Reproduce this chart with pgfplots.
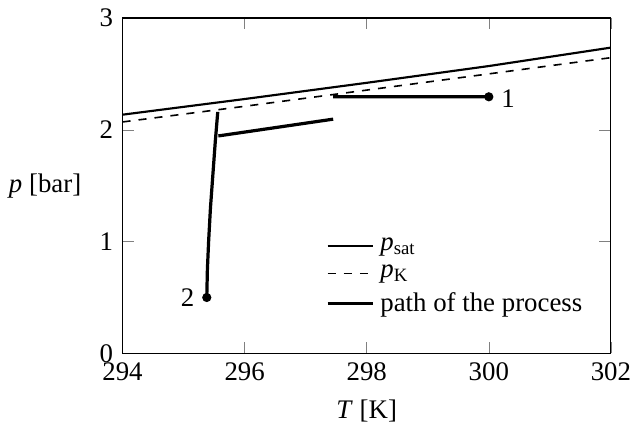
\documentclass[border=0pt]{standalone}
\usepackage{fontspec}
\setmainfont{Liberation Serif}
\usepackage{pgfplots}
\pgfplotsset{compat=1.18}

\begin{document}
\begin{tikzpicture}
  \begin{axis}[
    scale only axis,
    width=182pt, height=125pt,
    xmin=294, xmax=302, ymin=0, ymax=3,
    xtick={294,296,...,302}, ytick={0,1,2,3},
    /pgf/number format/assume math mode=true,
    /pgf/number format/1000 sep={},
    xlabel={\textit{T} [K]},
    ylabel={\textit{p} [bar]},
    ylabel style={rotate=-90},
    legend cell align=left,
    legend style={draw=none, fill=none, at={(0.97,0.08)}, anchor=south east},
    unbounded coords=jump,
    ]
    \addplot[black, thick] coordinates {
      (294, 2.135) (296, 2.275) (298, 2.42) (300, 2.57) (302, 2.735)
    };
    \addlegendentry{\textit{p}\textsubscript{sat}}
    \addplot[black, semithick, dashed] coordinates {
      (294, 2.07) (296, 2.21) (298, 2.355) (300, 2.50) (302, 2.645)
    };
    \addlegendentry{\textit{p}\textsubscript{K}}
    \addplot[black, very thick] coordinates {
      (300, 2.295) (297.45, 2.295) (297.45, nan)
      (297.45, 2.095) (295.57, 1.945) (295.57, nan)
      (295.56, 2.16) (295.52, 1.9) (295.48, 1.6) (295.44, 1.3)
      (295.41, 1.0) (295.39, 0.75) (295.38, 0.5)
    };
    \addlegendentry{path of the process}
    \addplot[black, only marks, mark=*, mark size=1.5pt, forget plot] coordinates {
      (300, 2.295) (295.38, 0.5)
    };
    \node[anchor=west] at (axis cs:300.05, 2.28) {1};
    \node[anchor=east] at (axis cs:295.33, 0.5) {2};
  \end{axis}
\end{tikzpicture}
\end{document}
